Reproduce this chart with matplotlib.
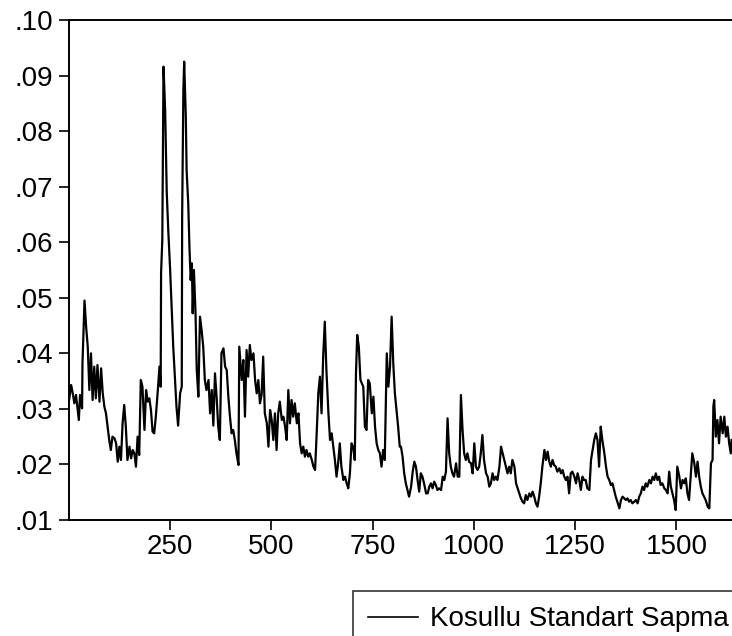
import matplotlib
matplotlib.use("Agg")
import matplotlib.pyplot as plt
from matplotlib.ticker import FixedLocator, FuncFormatter

obs = [1, 6, 10, 14, 18, 25, 28, 33, 34, 39, 43, 47, 51, 55, 59, 63, 67, 71, 76, 80, 84, 88,
       92, 96, 100, 104, 108, 113, 117, 121, 125, 129, 133, 137, 141, 145, 150, 154, 158, 162,
       166, 170, 174, 178, 182, 187, 191, 195, 199, 203, 207, 211, 215, 220, 224, 227, 228,
       231, 234, 238, 242, 246, 250, 254, 258, 266, 270, 275, 279, 280, 283, 285, 289, 291,
       295, 298, 301, 304, 306, 309, 313, 316, 320, 324, 328, 332, 336, 340, 345, 349, 353,
       357, 361, 365, 369, 373, 377, 382, 386, 390, 394, 398, 402, 406, 410, 414, 419, 421,
       424, 427, 431, 435, 439, 443, 447, 451, 456, 460, 464, 468, 472, 476, 480, 484, 489,
       493, 497, 501, 505, 509, 513, 517, 521, 526, 530, 534, 538, 542, 546, 550, 554, 558,
       563, 567, 571, 575, 579, 583, 587, 591, 595, 600, 604, 608, 612, 616, 620, 624, 628,
       632, 636, 641, 645, 649, 653, 657, 661, 665, 669, 673, 678, 682, 686, 690, 694, 698,
       702, 706, 709, 712, 716, 720, 727, 731, 735, 739, 743, 748, 752, 756, 760, 764, 768,
       772, 776, 780, 785, 789, 793, 797, 801, 805, 809, 813, 817, 820, 824, 828, 832, 836,
       840, 845, 849, 853, 857, 861, 865, 869, 873, 877, 882, 886, 890, 894, 898, 902, 906,
       910, 914, 919, 923, 927, 931, 935, 939, 943, 947, 951, 956, 960, 964, 968, 972, 976,
       980, 984, 988, 993, 997, 1001, 1005, 1009, 1013, 1017, 1021, 1025, 1030, 1034, 1038,
       1042, 1046, 1050, 1054, 1058, 1063, 1067, 1071, 1075, 1079, 1083, 1087, 1091, 1095,
       1100, 1104, 1108, 1112, 1116, 1120, 1124, 1128, 1132, 1137, 1141, 1145, 1149, 1153,
       1157, 1161, 1165, 1169, 1174, 1178, 1182, 1186, 1190, 1194, 1198, 1202, 1206, 1211,
       1215, 1219, 1223, 1227, 1231, 1235, 1239, 1243, 1248, 1252, 1256, 1260, 1264, 1268,
       1272, 1276, 1280, 1285, 1289, 1293, 1297, 1301, 1305, 1309, 1313, 1317, 1322, 1326,
       1330, 1334, 1338, 1342, 1346, 1350, 1354, 1359, 1363, 1367, 1371, 1375, 1379, 1383,
       1387, 1391, 1396, 1400, 1404, 1408, 1412, 1416, 1420, 1424, 1428, 1433, 1437, 1441,
       1445, 1449, 1453, 1457, 1461, 1465, 1470, 1474, 1478, 1482, 1486, 1490, 1494, 1498,
       1502, 1507, 1511, 1515, 1519, 1523, 1527, 1531, 1535, 1539, 1544, 1548, 1552, 1556,
       1560, 1564, 1568, 1572, 1577, 1581, 1585, 1589, 1591, 1593, 1597, 1601, 1605, 1609,
       1614, 1618, 1622, 1626, 1630, 1634, 1636]
std = [0.0316, 0.0343, 0.0328, 0.0310, 0.0325, 0.0280, 0.0325, 0.0301, 0.0382, 0.0495,
       0.0448, 0.0412, 0.0334, 0.0400, 0.0316, 0.0376, 0.0319, 0.0379, 0.0313, 0.0373,
       0.0328, 0.0304, 0.0292, 0.0268, 0.0244, 0.0226, 0.0250, 0.0247, 0.0238, 0.0205,
       0.0232, 0.0208, 0.0274, 0.0307, 0.0268, 0.0208, 0.0232, 0.0211, 0.0226, 0.0220,
       0.0196, 0.0250, 0.0217, 0.0352, 0.0340, 0.0262, 0.0334, 0.0313, 0.0319, 0.0298,
       0.0259, 0.0256, 0.0286, 0.0334, 0.0376, 0.0340, 0.0545, 0.0604, 0.0916, 0.0838,
       0.0689, 0.0617, 0.0556, 0.0484, 0.0412, 0.0304, 0.0270, 0.0328, 0.0340, 0.0646,
       0.0874, 0.0925, 0.0826, 0.0730, 0.0670, 0.0591, 0.0532, 0.0562, 0.0472, 0.0550,
       0.0472, 0.0370, 0.0322, 0.0466, 0.0442, 0.0412, 0.0352, 0.0334, 0.0352, 0.0292,
       0.0334, 0.0270, 0.0364, 0.0322, 0.0268, 0.0244, 0.0400, 0.0409, 0.0376, 0.0370,
       0.0322, 0.0286, 0.0256, 0.0262, 0.0244, 0.0220, 0.0199, 0.0412, 0.0382, 0.0352,
       0.0388, 0.0286, 0.0406, 0.0358, 0.0415, 0.0388, 0.0400, 0.0352, 0.0328, 0.0352,
       0.0310, 0.0325, 0.0394, 0.0292, 0.0274, 0.0232, 0.0298, 0.0280, 0.0244, 0.0292,
       0.0226, 0.0292, 0.0313, 0.0280, 0.0286, 0.0268, 0.0244, 0.0334, 0.0274, 0.0316,
       0.0286, 0.0310, 0.0274, 0.0292, 0.0238, 0.0220, 0.0232, 0.0214, 0.0226, 0.0214,
       0.0220, 0.0208, 0.0196, 0.0190, 0.0256, 0.0328, 0.0358, 0.0292, 0.0394, 0.0457,
       0.0370, 0.0292, 0.0244, 0.0256, 0.0232, 0.0208, 0.0178, 0.0202, 0.0238, 0.0196,
       0.0172, 0.0178, 0.0166, 0.0157, 0.0184, 0.0238, 0.0232, 0.0208, 0.0364, 0.0433,
       0.0412, 0.0352, 0.0340, 0.0268, 0.0262, 0.0352, 0.0346, 0.0292, 0.0322, 0.0268,
       0.0238, 0.0226, 0.0220, 0.0196, 0.0226, 0.0208, 0.0400, 0.0340, 0.0376, 0.0466,
       0.0382, 0.0328, 0.0298, 0.0268, 0.0232, 0.0232, 0.0214, 0.0184, 0.0166, 0.0154,
       0.0142, 0.0160, 0.0187, 0.0205, 0.0196, 0.0172, 0.0151, 0.0184, 0.0178, 0.0166,
       0.0148, 0.0148, 0.0160, 0.0166, 0.0157, 0.0169, 0.0163, 0.0154, 0.0157, 0.0154,
       0.0178, 0.0172, 0.0187, 0.0283, 0.0220, 0.0196, 0.0184, 0.0178, 0.0202, 0.0178,
       0.0178, 0.0325, 0.0262, 0.0220, 0.0208, 0.0220, 0.0205, 0.0202, 0.0184, 0.0238,
       0.0196, 0.0190, 0.0196, 0.0220, 0.0253, 0.0208, 0.0184, 0.0178, 0.0160, 0.0166,
       0.0184, 0.0172, 0.0178, 0.0172, 0.0196, 0.0232, 0.0220, 0.0208, 0.0196, 0.0184,
       0.0196, 0.0184, 0.0208, 0.0196, 0.0166, 0.0157, 0.0148, 0.0139, 0.0133, 0.0130,
       0.0145, 0.0136, 0.0148, 0.0142, 0.0151, 0.0142, 0.0130, 0.0124, 0.0142, 0.0166,
       0.0196, 0.0226, 0.0208, 0.0223, 0.0205, 0.0196, 0.0208, 0.0199, 0.0196, 0.0187,
       0.0193, 0.0184, 0.0190, 0.0178, 0.0172, 0.0178, 0.0148, 0.0184, 0.0187, 0.0178,
       0.0166, 0.0184, 0.0172, 0.0154, 0.0178, 0.0172, 0.0172, 0.0157, 0.0154, 0.0208,
       0.0226, 0.0244, 0.0256, 0.0244, 0.0196, 0.0268, 0.0244, 0.0220, 0.0196, 0.0178,
       0.0172, 0.0163, 0.0166, 0.0154, 0.0142, 0.0133, 0.0121, 0.0136, 0.0142, 0.0139,
       0.0136, 0.0139, 0.0133, 0.0136, 0.0130, 0.0133, 0.0136, 0.0130, 0.0142, 0.0148,
       0.0160, 0.0154, 0.0166, 0.0160, 0.0172, 0.0166, 0.0178, 0.0172, 0.0184, 0.0172,
       0.0178, 0.0163, 0.0166, 0.0157, 0.0154, 0.0148, 0.0187, 0.0160, 0.0148, 0.0136,
       0.0118, 0.0196, 0.0178, 0.0157, 0.0172, 0.0166, 0.0175, 0.0148, 0.0136, 0.0178,
       0.0220, 0.0202, 0.0178, 0.0205, 0.0178, 0.0160, 0.0148, 0.0142, 0.0136, 0.0124,
       0.0121, 0.0202, 0.0208, 0.0304, 0.0316, 0.0250, 0.0280, 0.0238, 0.0286, 0.0256,
       0.0286, 0.0250, 0.0268, 0.0238, 0.0220, 0.0244]

x_ticks = [250, 500, 750, 1000, 1250, 1500]
y_ticks = [0.01, 0.02, 0.03, 0.04, 0.05, 0.06, 0.07, 0.08, 0.09, 0.10]
series_label = "Kosullu Standart Sapma"

plt.rcParams['font.family'] = ['Liberation Sans', 'DejaVu Sans']

W, H = 732, 636
fig = plt.figure(figsize=(W / 100, H / 100), dpi=100)
ax = fig.add_axes([68.7 / W, 1 - 520 / H, 1 - 68.7 / W, 500 / H])

line, = ax.plot(obs, std, color='black', lw=1.6, label=series_label)

ax.set_xlim(0, 1637)
ax.set_ylim(0.01, 0.10)
ax.xaxis.set_major_locator(FixedLocator(x_ticks))
ax.yaxis.set_major_locator(FixedLocator(y_ticks))
ax.yaxis.set_major_formatter(FuncFormatter(lambda v, p: ("%.2f" % v)[1:]))
ax.tick_params(axis='both', direction='out', length=7, width=1.2, labelsize=20,
               colors='black')
ax.tick_params(axis='y', pad=4.5)
ax.tick_params(axis='x', pad=3)
for s in ['left', 'bottom', 'top']:
    ax.spines[s].set_linewidth(1.4)
ax.spines['right'].set_visible(False)

leg = fig.legend(handles=[line], loc='upper left',
                 bbox_to_anchor=(353 / W, 1 - 591 / H), bbox_transform=fig.transFigure,
                 fontsize=20, frameon=True, fancybox=False, shadow=False,
                 borderpad=0.55, handlelength=1.8, handletextpad=0.42, borderaxespad=0)
leg.get_frame().set_edgecolor('black')
leg.get_frame().set_linewidth(1.2)
leg.get_lines()[0].set_linewidth(1.2)

fig.savefig("out.png", dpi=100)
